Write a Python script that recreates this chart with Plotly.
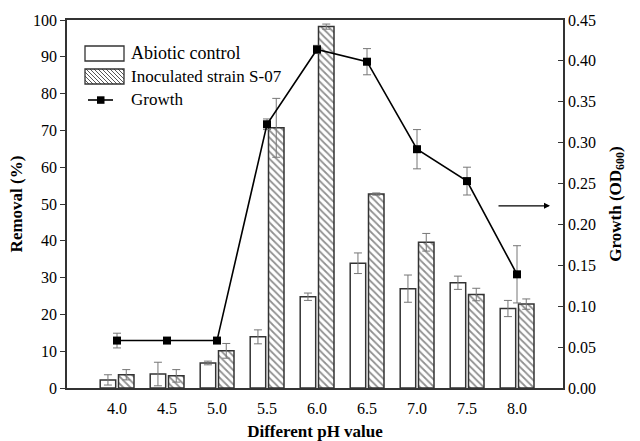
import plotly.graph_objects as go

# ---- data ----
ph = [4.0, 4.5, 5.0, 5.5, 6.0, 6.5, 7.0, 7.5, 8.0]
tick_labels = ["4.0", "4.5", "5.0", "5.5", "6.0", "6.5", "7.0", "7.5", "8.0"]
abiotic = [2.2, 3.8, 6.8, 13.9, 24.8, 33.9, 27.0, 28.6, 21.6]
abiotic_err = [1.4, 3.2, 0.5, 1.9, 1.0, 2.8, 3.7, 1.8, 2.2]
inoculated = [3.6, 3.3, 10.1, 70.7, 98.2, 52.7, 39.6, 25.4, 22.8]
inoculated_err = [1.4, 1.7, 2.0, 8.0, 0.7, 0.3, 2.4, 1.7, 1.4]
growth = [0.058, 0.058, 0.058, 0.3225, 0.414, 0.399, 0.292, 0.253, 0.139]
growth_err = [0.009, 0.0, 0.0, 0.0065, 0.005, 0.016, 0.024, 0.017, 0.035]

FONT = "Liberation Serif, Times New Roman, serif"

# plot-area geometry in pixels
W, H = 640, 441
L, R, T, B = 67, 563, 20, 388


def px(x):
    return (x - L) / (R - L)


def py(y):
    return (B - y) / (B - T)


fig = go.Figure()

fig.add_trace(go.Bar(
    x=ph, y=abiotic, name="Abiotic control",
    width=0.155, offset=-0.168,
    marker=dict(color="white", line=dict(color="#333", width=1.5)),
    error_y=dict(type="data", array=abiotic_err, color="#777", thickness=1, width=4),
    showlegend=False,
))
fig.add_trace(go.Bar(
    x=ph, y=inoculated, name="Inoculated strain S-07",
    width=0.155, offset=0.015,
    marker=dict(color="white", line=dict(color="#333", width=1.5),
                pattern=dict(shape="\\", size=5, solidity=0.35, fgcolor="#222", bgcolor="white")),
    error_y=dict(type="data", array=inoculated_err, color="#777", thickness=1, width=4),
    showlegend=False,
))
fig.add_trace(go.Scatter(
    x=ph, y=growth, name="Growth", yaxis="y2", mode="lines+markers",
    line=dict(color="black", width=1.6),
    marker=dict(symbol="square", size=8, color="black"),
    error_y=dict(type="data", array=growth_err, color="#777", thickness=1, width=4),
    showlegend=False,
))

# ---- manual legend ----
shapes = []
shapes.append(dict(type="rect", xref="paper", yref="paper",
                   x0=px(85), x1=px(124), y0=py(61), y1=py(46),
                   line=dict(color="#333", width=1.3), fillcolor="white"))
bx0, bx1, by0, by1 = 85, 124, 69, 84
hh = by1 - by0
path = ""
c = bx0 - hh
while c < bx1:
    xs = max(bx0, c)
    xe = min(bx1, c + hh)
    if xe > xs:
        ys = by0 + (xs - c)
        ye = by0 + (xe - c)
        path += f"M{px(xs)},{py(ys)}L{px(xe)},{py(ye)}"
    c += 4
shapes.append(dict(type="path", xref="paper", yref="paper", path=path,
                   line=dict(color="#444", width=0.9)))
shapes.append(dict(type="rect", xref="paper", yref="paper",
                   x0=px(bx0), x1=px(bx1), y0=py(by1), y1=py(by0),
                   line=dict(color="#333", width=1.3)))
shapes.append(dict(type="line", xref="paper", yref="paper",
                   x0=px(88), x1=px(113), y0=py(100), y1=py(100),
                   line=dict(color="black", width=1.6)))
shapes.append(dict(type="rect", xref="paper", yref="paper",
                   x0=px(97), x1=px(104.5), y0=py(103.8), y1=py(96.3),
                   line=dict(color="black", width=0), fillcolor="black"))

annotations = []
for txt, yy, sz in [("Abiotic control", 53, 18), ("Inoculated strain S-07", 76.5, 17), ("Growth", 100, 17)]:
    annotations.append(dict(text=txt, xref="paper", yref="paper", x=px(129), y=py(yy),
                            xanchor="left", yanchor="middle", showarrow=False,
                            font=dict(family=FONT, size=sz, color="black")))

# arrow pointing to right axis
annotations.append(dict(x=8.33, y=49.5, ax=7.78, ay=49.5, xref="x", yref="y",
                        axref="x", ayref="y", showarrow=True, arrowhead=2,
                        arrowsize=1, arrowwidth=1.2, arrowcolor="black", text=" "))

fig.update_layout(
    width=W, height=H,
    margin=dict(l=L, r=W - R, t=T, b=H - B, pad=0, autoexpand=False),
    plot_bgcolor="white", paper_bgcolor="white",
    barmode="overlay",
    font=dict(family=FONT, size=15, color="black"),
    shapes=shapes, annotations=annotations,
    xaxis=dict(range=[3.5, 8.46], tickvals=ph, ticktext=tick_labels, automargin=False,
               showline=True, linecolor="#333", linewidth=1.5, mirror=True,
               ticks="", showgrid=False, zeroline=False, ticklabelstandoff=5,
               tickfont=dict(family=FONT, size=16),
               title=dict(text="<b>Different pH value</b>", font=dict(family=FONT, size=17), standoff=9)),
    yaxis=dict(range=[0, 100], dtick=10, showline=True, linecolor="#333", linewidth=1.5,
               ticks="outside", ticklen=5, tickcolor="#333", showgrid=False, zeroline=False,
               automargin=False,
               tickfont=dict(family=FONT, size=16),
               title=dict(text="<b>Removal (%)</b>", font=dict(family=FONT, size=17), standoff=6)),
    yaxis2=dict(range=[0, 0.45], dtick=0.05, tickformat=".2f", overlaying="y", side="right",
                showline=True, linecolor="#333", linewidth=1.5, automargin=False,
                ticks="inside", ticklen=5, tickcolor="#333", showgrid=False, zeroline=False,
                tickfont=dict(family=FONT, size=16),
                title=dict(text="<b>Growth (OD<sub>600</sub>)</b>", font=dict(family=FONT, size=17), standoff=14)),
)

fig.write_html("out.html")
